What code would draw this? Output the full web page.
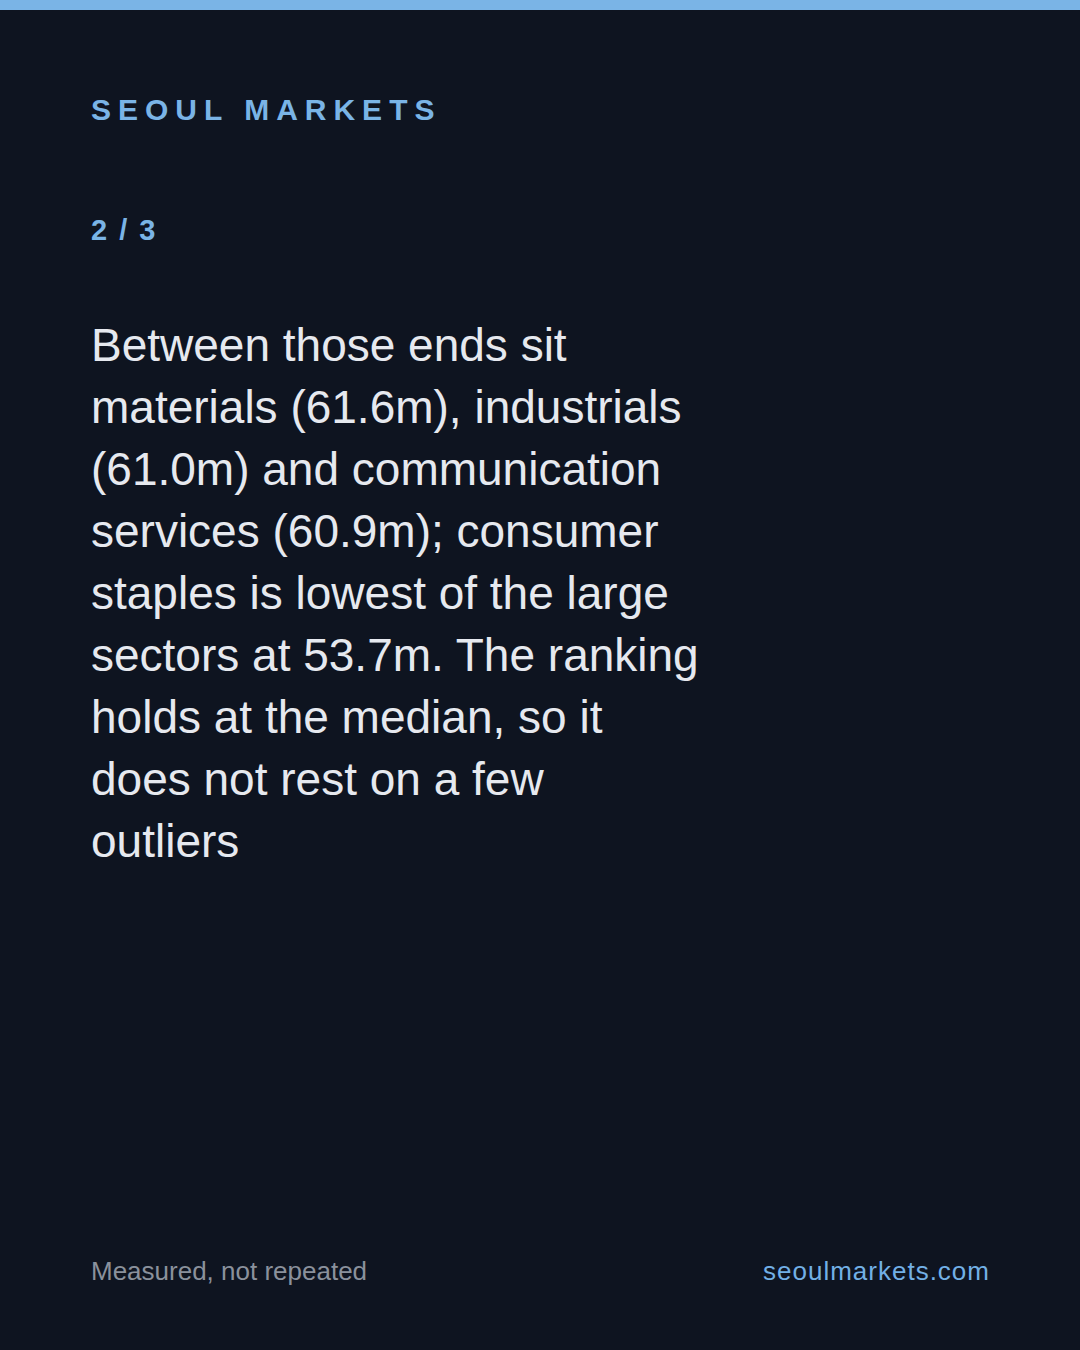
<!DOCTYPE html>
<html>
  <head>
    <meta charset="utf-8" />
    <script src="https://cdn.jsdelivr.net/npm/d3@7"></script>
    <style>
      * {
        margin: 0;
        padding: 0;
        box-sizing: border-box;
      }
      body {
        background: #0e1420;
        width: 1080px;
        height: 1350px;
        overflow: hidden;
      }
      svg text {
        font-family: "Liberation Sans", Arial, Helvetica, sans-serif;
      }
    </style>
  </head>
  <body>
    <div id="slide"></div>
    <script>
      const brand = "SEOUL MARKETS";
      const pageLabel = "2 / 3";
      const bodyLines = [
        "Between those ends sit",
        "materials (61.6m), industrials",
        "(61.0m) and communication",
        "services (60.9m); consumer",
        "staples is lowest of the large",
        "sectors at 53.7m. The ranking",
        "holds at the median, so it",
        "does not rest on a few",
        "outliers",
      ];
      const footLeft = "Measured, not repeated";
      const footRight = "seoulmarkets.com";

      const w = 1080;
      const h = 1350;
      const left = 91;
      const right = 990;

      const svg = d3
        .select("#slide")
        .append("svg")
        .attr("width", w)
        .attr("height", h);

      svg
        .append("rect")
        .attr("width", w)
        .attr("height", h)
        .attr("fill", "#0e1420");

      svg
        .append("rect")
        .attr("width", w)
        .attr("height", 10)
        .attr("fill", "#7ab4e6");

      svg
        .append("text")
        .attr("x", left)
        .attr("y", 120)
        .attr("fill", "#7ab4e6")
        .attr("font-size", 30)
        .attr("font-weight", 700)
        .attr("letter-spacing", 7)
        .text(brand);

      svg
        .append("text")
        .attr("x", left)
        .attr("y", 240)
        .attr("fill", "#7ab4e6")
        .attr("font-size", 29)
        .attr("font-weight", 700)
        .attr("letter-spacing", 2)
        .text(pageLabel);

      // paragraph, one text per line
      const lineY = d3
        .scaleLinear()
        .domain([0, 1])
        .range([361, 423]);

      svg
        .append("g")
        .selectAll("text")
        .data(bodyLines)
        .enter()
        .append("text")
        .attr("x", left)
        .attr("y", (d, i) => lineY(i))
        .attr("fill", "#e6e9ef")
        .attr("font-size", 46)
        .text((d) => d);

      svg
        .append("text")
        .attr("x", left)
        .attr("y", 1280)
        .attr("fill", "#8a919c")
        .attr("font-size", 26)
        .text(footLeft);

      svg
        .append("text")
        .attr("x", right)
        .attr("y", 1280)
        .attr("text-anchor", "end")
        .attr("fill", "#72b0e6")
        .attr("font-size", 26)
        .attr("letter-spacing", 1)
        .text(footRight);
    </script>
  </body>
</html>
